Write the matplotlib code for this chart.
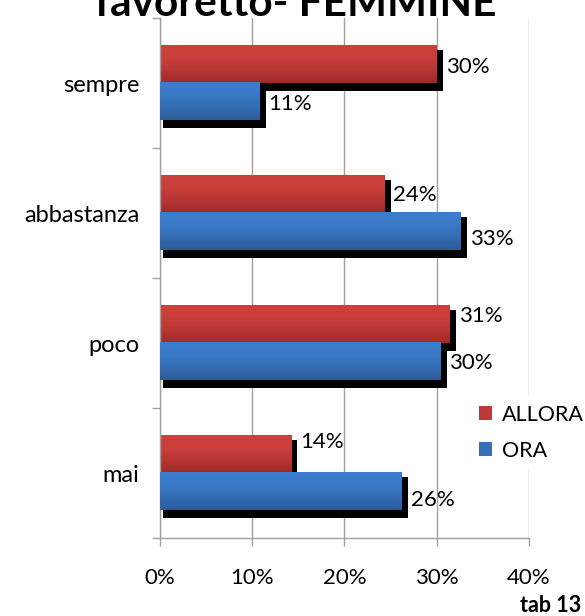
import numpy as np
import matplotlib
matplotlib.use("Agg")
import matplotlib.pyplot as plt
from matplotlib.patches import Patch
from matplotlib.colors import to_rgb

### data
categories = ["sempre", "abbastanza", "poco", "mai"]
allora = [30.0, 24.3, 31.4, 14.2]
ora = [10.8, 32.6, 30.4, 26.2]
xticks = [0, 10, 20, 30, 40]
title = "favoretto- FEMMINE"
note = "tab 13"

# small vertical nudges of the value labels (pixels), like the original
allora_dy = [-3, -1, 8, 12]
ora_dy = [-2, -7, -1, -8]

plt.rcParams['font.family'] = ['Lato', 'DejaVu Sans']

W, H = 585, 616
fig = plt.figure(figsize=(W / 100, H / 100), dpi=100)
ax_l, ax_r, ax_b, ax_t = 159.7, 529, 538, 18
ax = fig.add_axes([ax_l / W, 1 - ax_b / H, (ax_r - ax_l) / W, (ax_b - ax_t) / H])

xmax = 40
n = len(categories)
px_x = xmax / (ax_r - ax_l)   # % per pixel
px_y = n / (ax_b - ax_t)      # category per pixel

y = np.arange(n)
h = 0.285

red_stops = ["#cd403c", "#c93e3a", "#b83633", "#9c2a29"]
blue_stops = ["#3c7dcd", "#3a79c7", "#336cb3", "#2d5b97"]


def gradient(stops, steps=64):
    cols = np.array([to_rgb(c) for c in stops])
    pos = np.linspace(0, 1, len(cols))
    t = np.linspace(0, 1, steps)
    img = np.stack([np.interp(t, pos, cols[:, k]) for k in range(3)], axis=1)
    return img[:, None, :]


def draw_series(vals, ypos, stops, z):
    # black shadow, a bit larger and shifted right/down
    ax.barh(ypos + 6 * px_y, np.array(vals) + 3 * px_x, height=h + 4 * px_y,
            left=3.5 * px_x, color="black", zorder=1)
    bars = ax.barh(ypos, vals, height=h, color=stops[0], zorder=z)
    img = gradient(stops)
    for b in bars:
        x0, y0, bw, bh = b.get_x(), b.get_y(), b.get_width(), b.get_height()
        ax.imshow(img, extent=(x0, x0 + bw, y0 + bh, y0), aspect="auto",
                  origin="upper", zorder=z + 0.5, interpolation="bilinear")
    return bars


draw_series(allora, y - h / 2, red_stops, 2)
draw_series(ora, y + h / 2, blue_stops, 3)

for vals, ypos, dys in [(allora, y - h / 2, allora_dy), (ora, y + h / 2, ora_dy)]:
    for v, yy, dy in zip(vals, ypos, dys):
        ax.annotate("{:.0f}%".format(v), xy=(v, yy), xytext=(6.5, dy * 0.72),
                    textcoords="offset points", va="center", ha="left",
                    fontsize=16, zorder=6)

ax.set_xlim(0, xmax)
ax.set_ylim(n - 0.5, -0.5)

ax.set_xticks(xticks)
ax.set_xticklabels(["{}%".format(t) for t in xticks])
ax.set_yticks(y)
ax.set_yticklabels(categories)
ax.set_yticks(np.arange(n + 1) - 0.5, minor=True)

grey = "#a0a0a0"
ax.grid(axis="x", color=grey, linewidth=1)
ax.set_axisbelow(True)
for s in ["top", "right"]:
    ax.spines[s].set_visible(False)
for s in ["left", "bottom"]:
    ax.spines[s].set_color(grey)
    ax.spines[s].set_linewidth(1)

ax.tick_params(axis="x", length=5.8, width=1, color=grey, pad=16, labelsize=16)
ax.tick_params(axis="y", which="major", length=0, pad=14.5, labelsize=17)
ax.tick_params(axis="y", which="minor", length=5.8, width=1, color=grey)

handles = [Patch(facecolor="#c0393a", edgecolor="none", label="ALLORA"),
           Patch(facecolor="#3670bc", edgecolor="none", label="ORA")]
leg = ax.legend(handles=handles, loc="upper left", bbox_to_anchor=(470 / W, 1 - 396 / H),
                bbox_transform=fig.transFigure, borderaxespad=0, frameon=True,
                fontsize=15.5, handlelength=0.62, handleheight=0.62,
                handletextpad=0.45, labelspacing=0.75, borderpad=0.4)
leg.get_frame().set_facecolor("white")
leg.get_frame().set_edgecolor("none")
leg.get_frame().set_alpha(1)

fig.text(296 / W, 1 - 16 / H, title, ha="center", va="baseline",
         fontsize=30.5, fontweight="bold")
fig.text(581 / W, 1 - 612 / H, note, ha="right", va="baseline",
         fontsize=15.5, fontweight="bold")

fig.savefig("out.png", dpi=100)
